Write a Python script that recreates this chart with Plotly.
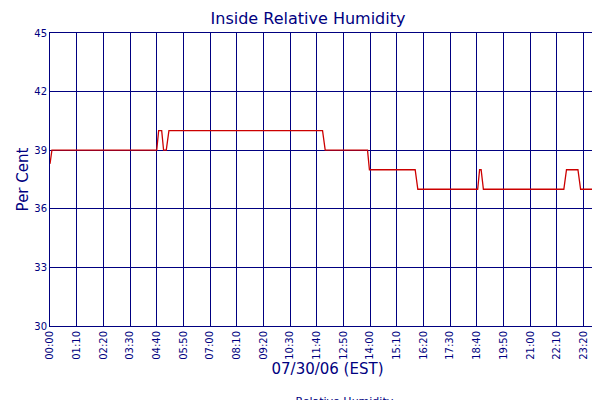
import plotly.graph_objects as go

# minutes since 00:00 on 07/30/06
times = [0, 5, 280, 285, 293, 298, 305, 312, 715, 722, 833, 838, 958, 965, 1122, 1127, 1131, 1137, 1348, 1355, 1385, 1392, 1455]
humidity = [38.3, 39, 39, 40, 40, 39, 39, 40, 40, 39, 39, 38, 38, 37, 37, 38, 38, 37, 37, 38, 38, 37, 37]
tick_minutes = [i * 70 for i in range(21)] + [1455]
tick_labels = ["00:00", "01:10", "02:20", "03:30", "04:40", "05:50", "07:00", "08:10", "09:20", "10:30",
               "11:40", "12:50", "14:00", "15:10", "16:20", "17:30", "18:40", "19:50", "21:00", "22:10",
               "23:20", "00:15"]
y_ticks = [30, 33, 36, 39, 42, 45]

navy = "#000080"
fig = go.Figure(go.Scatter(x=times, y=humidity, mode="lines", name="Relative Humidity",
                           line=dict(color="#cc0000", width=1.3)))
fig.update_layout(
    width=600, height=400, margin=dict(l=42, r=3, t=25, b=82, autoexpand=False),
    paper_bgcolor="white", plot_bgcolor="white",
    font=dict(family="DejaVu Sans", color=navy, size=10),
    title=dict(text="Inside Relative Humidity", x=0.5, xanchor="center", y=0.975, yanchor="middle",
               font=dict(size=16, color=navy)),
    showlegend=True,
    legend=dict(orientation="h", x=0.5, xanchor="center", y=-0.205, yanchor="top",
                font=dict(size=11, color=navy)),
)
fig.update_xaxes(range=[0, 1456], tickvals=tick_minutes, ticktext=tick_labels, tickangle=-90,
                 automargin=False,
                 showgrid=True, gridcolor=navy, gridwidth=1, showline=True, linecolor=navy,
                 mirror=True, zeroline=False, ticks="", tickfont=dict(size=10),
                 title=dict(text="07/30/06 (EST)", font=dict(size=15, color=navy), standoff=4))
fig.update_yaxes(range=[30, 45], tickvals=y_ticks, showgrid=True, gridcolor=navy, gridwidth=1,
                 automargin=False,
                 showline=True, linecolor=navy, mirror=True, zeroline=False, ticks="",
                 tickfont=dict(size=10),
                 title=dict(text="Per Cent", font=dict(size=15, color=navy), standoff=2))
fig.write_html("out.html")
